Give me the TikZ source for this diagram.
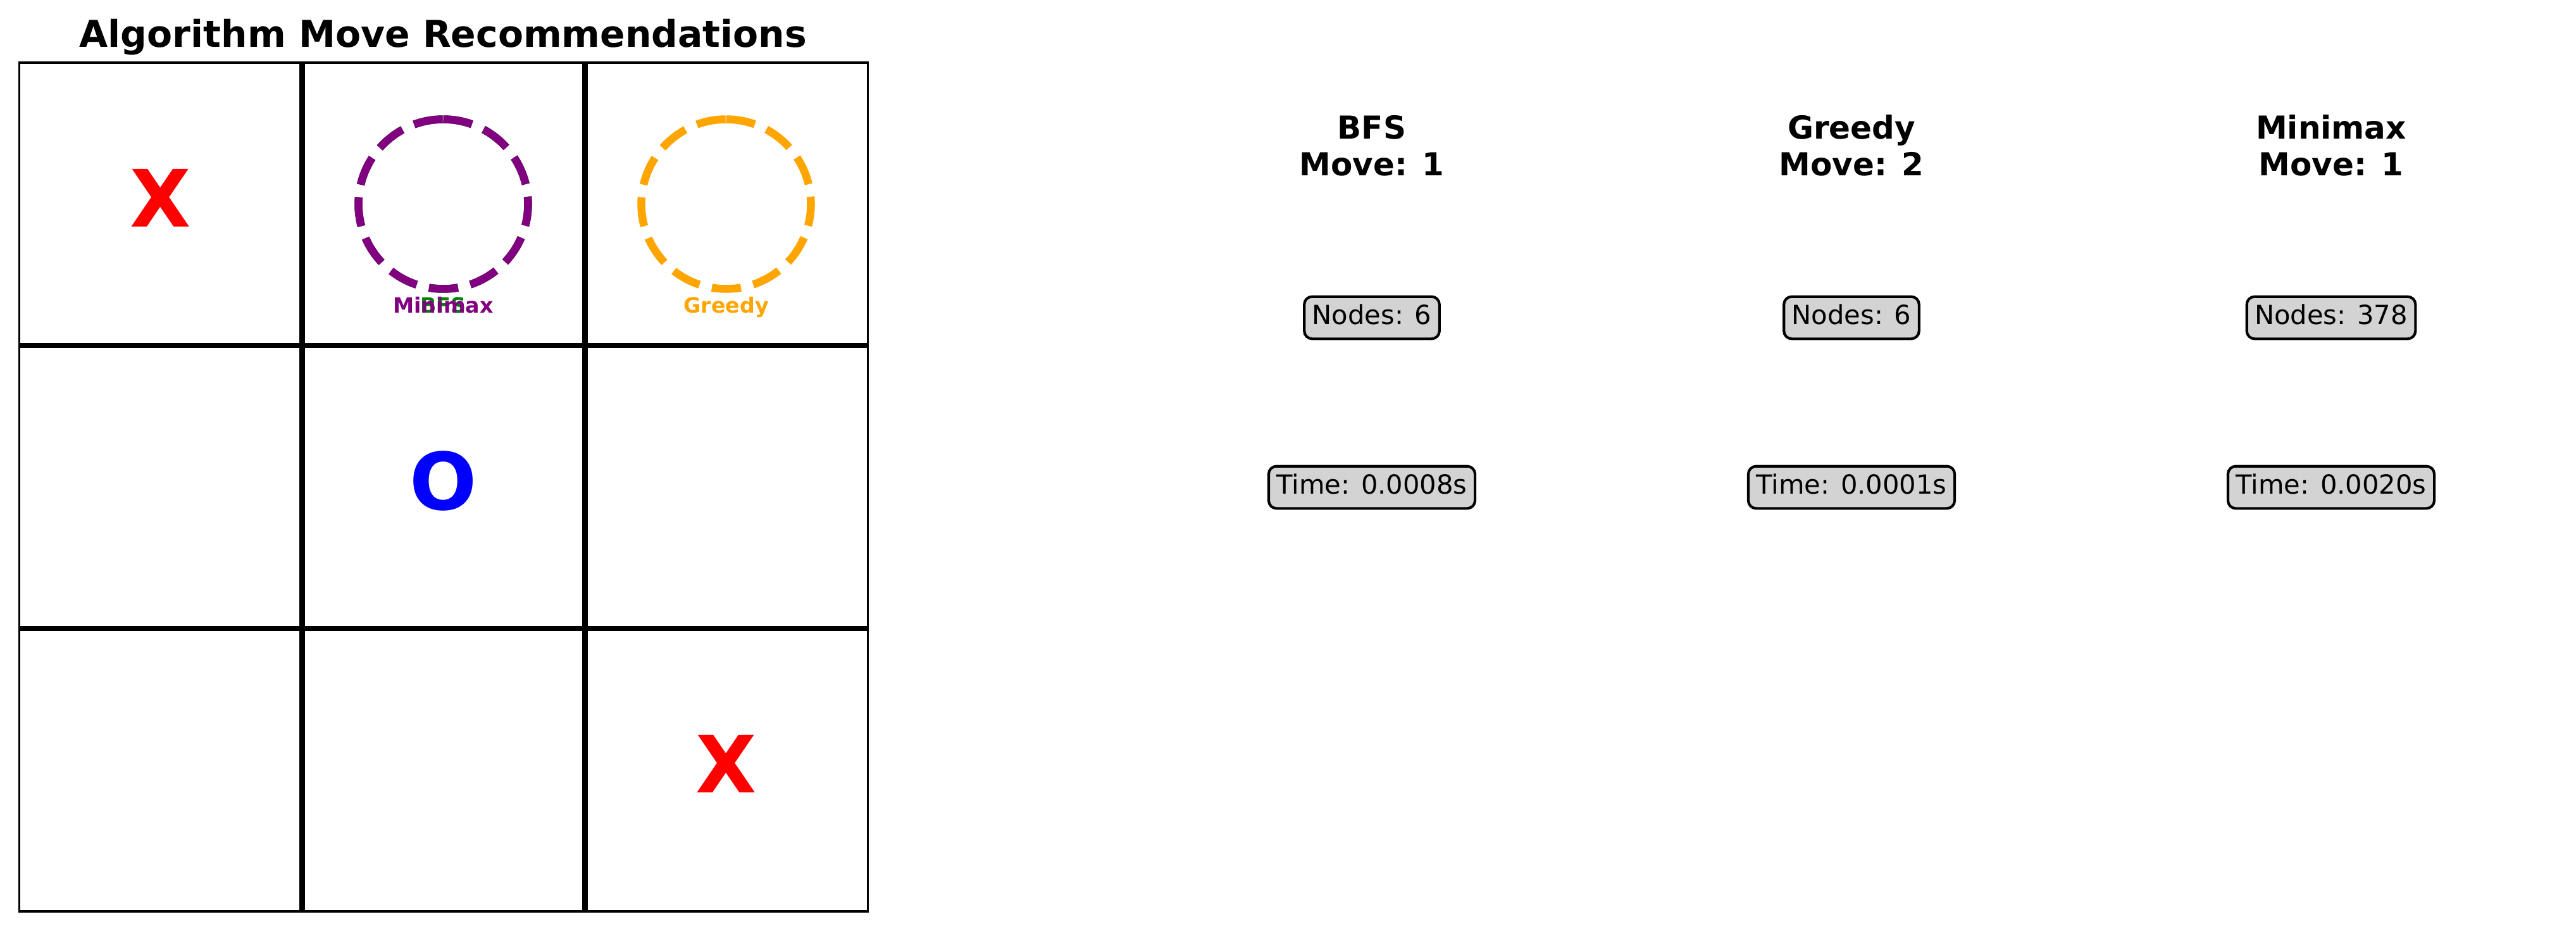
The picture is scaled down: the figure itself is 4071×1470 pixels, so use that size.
\documentclass[tikz,border=0pt]{standalone}
\usepackage{fontspec}
\setmainfont{DejaVu Sans}
\usepackage{tikz}
\usetikzlibrary{positioning}
\definecolor{mplpurple}{RGB}{128,0,128}
\definecolor{mplorange}{RGB}{255,165,0}
\definecolor{mplgreen}{RGB}{0,128,0}
\definecolor{boxgray}{RGB}{211,211,211}
\tikzstyle{title} = [anchor=base, font=\fontsize{14}{16.8}\selectfont\bfseries]
\tikzstyle{head} = [anchor=base, align=center, font=\fontsize{12}{13.8}\selectfont\bfseries]
\tikzstyle{infobox} = [rectangle, rounded corners=3pt, draw=black, line width=1pt, fill=boxgray, inner xsep=3pt, inner ysep=3pt, text height=7.6pt, text depth=2.4pt, font=\fontsize{10}{12}\selectfont]
\tikzstyle{piece} = [anchor=base, inner sep=0pt, font=\fontsize{30}{36}\selectfont\bfseries]
\tikzstyle{pick} = [line width=3pt, dash pattern=on 11.1pt off 4.8pt]
\tikzstyle{picklabel} = [anchor=base, inner sep=0pt, font=\fontsize{8}{9.6}\selectfont\bfseries]
\tikzstyle{boardline} = [line width=2pt]
\tikzstyle{frame} = [line width=0.8pt]

\begin{document}
\begin{tikzpicture}[x=0.24pt, y=-0.24pt, node distance=64.32pt]
	\useasboundingbox (0,0) rectangle (4071,1470);
	% board
	\node (board) [title] at (700.5,75) {Algorithm Move Recommendations};
	\draw [frame] (30.5,99) rectangle (1371.5,1440);
	\draw [boardline] (477.5,99) -- (477.5,1440);
	\draw [boardline] (924.5,99) -- (924.5,1440);
	\draw [boardline] (30.5,546) -- (1371.5,546);
	\draw [boardline] (30.5,993) -- (1371.5,993);
	\node (x1) [piece, text=red] at (254,358) {X};
	\node (o1) [piece, text=blue] at (700.5,805) {O};
	\node (x2) [piece, text=red] at (1147.5,1252) {X};
	% recommended moves
	\draw [pick, mplgreen] (700.5,322.5) ++(0,-134) arc[start angle=-90, end angle=270, radius=134];
	\node (bfspick) [picklabel, text=mplgreen] at (700.5,494) {BFS};
	\draw [pick, mplpurple] (700.5,322.5) ++(0,-134) arc[start angle=-90, end angle=270, radius=134];
	\node (minimaxpick) [picklabel, text=mplpurple] at (700.5,494) {Minimax};
	\draw [pick, mplorange] (1147.5,322.5) ++(0,-134) arc[start angle=-90, end angle=270, radius=134];
	\node (greedypick) [picklabel, text=mplorange] at (1147.5,494) {Greedy};
	% stats
	\node (bfs) [head] at (2168,277) {BFS\\Move: 1};
	\node (greedy) [head] at (2926,277) {Greedy\\Move: 2};
	\node (minimax) [head] at (3684,277) {Minimax\\Move: 1};
	\node (bfsnodes) [infobox] at (2168,502) {Nodes: 6};
	\node (bfstime) [infobox, below of=bfsnodes] {Time: 0.0008s};
	\node (greedynodes) [infobox, right of=bfsnodes, node distance=181.92pt] {Nodes: 6};
	\node (greedytime) [infobox, below of=greedynodes] {Time: 0.0001s};
	\node (minimaxnodes) [infobox, right of=greedynodes, node distance=181.92pt] {Nodes: 378};
	\node (minimaxtime) [infobox, below of=minimaxnodes] {Time: 0.0020s};
\end{tikzpicture}
\end{document}
